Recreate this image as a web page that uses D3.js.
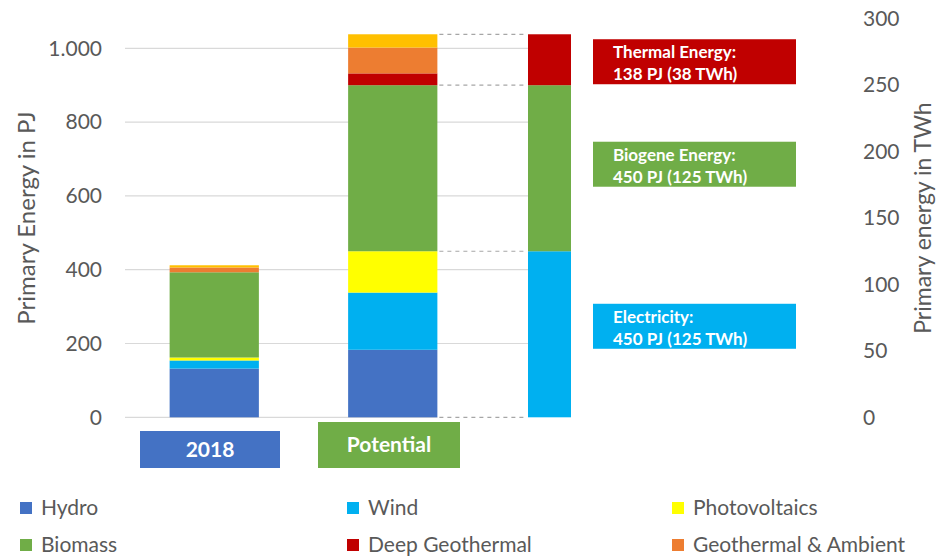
<!DOCTYPE html>
<html>
<head>
<meta charset="utf-8">
<script src="https://cdn.jsdelivr.net/npm/d3@7"></script>
<style>
  body { margin: 0; background: #fff; }
  svg { display: block; font-family: Lato, "Open Sans", sans-serif; }
</style>
</head>
<body>
<div id="chart"></div>
<script>
  const width = 938;
  const height = 557;

  // stacked bars, PJ
  const categories = ["2018", "Potential"];
  const seriesNames = ["Hydro", "Wind", "Photovoltaics", "Biomass", "Deep Geothermal", "Geothermal & Ambient", "Solar Thermal"];
  const hydro = [132, 183];
  const wind = [22, 155];
  const photovoltaics = [8, 112];
  const biomass = [231, 450];
  const deepGeothermal = [0, 32];
  const geoAmbient = [13, 70];
  const solarThermal = [6, 36];

  // split bar on the right, PJ / TWh
  const splitNames = ["Electricity", "Biogene Energy", "Thermal Energy"];
  const splitPJ = [450, 450, 138];
  const splitTWh = [125, 125, 38];

  const leftTicks = [0, 200, 400, 600, 800, 1000];
  const rightTicks = [0, 50, 100, 150, 200, 250, 300];
  const legendNames = ["Hydro", "Wind", "Photovoltaics", "Biomass", "Deep Geothermal", "Geothermal & Ambient"];

  const colors = {
    "Hydro": "#4472C4",
    "Wind": "#00B0F0",
    "Photovoltaics": "#FFFF00",
    "Biomass": "#70AD47",
    "Deep Geothermal": "#C00000",
    "Geothermal & Ambient": "#ED7D31",
    "Solar Thermal": "#FFC000"
  };
  const splitColors = ["#00B0F0", "#70AD47", "#C00000"];
  const catColors = ["#4472C4", "#70AD47"];
  const grey = "#595959";

  const plotLeft = 125, plotRight = 571;

  const y = d3.scaleLinear().domain([0, 1000]).range([417.3, 48.3]);
  // right axis in TWh (1 TWh = 3.6 PJ)
  const yR = d3.scaleLinear().domain([0, 300]).range([y(0), y(300 * 3.6)]);

  const x = d3.scaleBand().domain(categories).range([plotLeft, 482])
    .paddingInner(0.5).paddingOuter(0.25);
  const xs = d3.scaleBand().domain(["split"]).range([528, plotRight]);

  const svg = d3.create("svg").attr("width", width).attr("height", height);

  // gridlines
  svg.append("g")
    .selectAll("line")
    .data(leftTicks.slice(1))
    .join("line")
    .attr("x1", plotLeft).attr("x2", plotRight)
    .attr("y1", d => y(d)).attr("y2", d => y(d))
    .attr("stroke", "#D9D9D9").attr("stroke-width", 1.2);

  svg.append("line")
    .attr("x1", plotLeft).attr("x2", x("Potential") + x.bandwidth())
    .attr("y1", y(0)).attr("y2", y(0))
    .attr("stroke", "#D9D9D9").attr("stroke-width", 1.2);

  // stacked data
  const rows = categories.map((c, i) => ({
    cat: c,
    "Hydro": hydro[i],
    "Wind": wind[i],
    "Photovoltaics": photovoltaics[i],
    "Biomass": biomass[i],
    "Deep Geothermal": deepGeothermal[i],
    "Geothermal & Ambient": geoAmbient[i],
    "Solar Thermal": solarThermal[i]
  }));
  const stacked = d3.stack().keys(seriesNames)(rows);

  svg.append("g")
    .selectAll("g")
    .data(stacked)
    .join("g")
    .attr("fill", d => colors[d.key])
    .selectAll("rect")
    .data(d => d)
    .join("rect")
    .attr("x", d => x(d.data.cat))
    .attr("width", x.bandwidth())
    .attr("y", d => y(d[1]))
    .attr("height", d => y(d[0]) - y(d[1]));

  // split bar
  const splitStack = [];
  let acc = 0;
  splitPJ.forEach((v, i) => {
    splitStack.push({ name: splitNames[i], y0: acc, y1: acc + v, pj: v, twh: splitTWh[i], color: splitColors[i] });
    acc += v;
  });

  svg.append("g")
    .selectAll("rect")
    .data(splitStack)
    .join("rect")
    .attr("x", xs("split"))
    .attr("width", xs.bandwidth())
    .attr("y", d => y(d.y1))
    .attr("height", d => y(d.y0) - y(d.y1))
    .attr("fill", d => d.color);

  // dashed connectors
  const levels = [0].concat(splitStack.map(d => d.y1));
  svg.append("g")
    .selectAll("line")
    .data(levels)
    .join("line")
    .attr("x1", x("Potential") + x.bandwidth() + 2)
    .attr("x2", xs("split") - 4)
    .attr("y1", d => y(d)).attr("y2", d => y(d))
    .attr("stroke", "#A6A6A6")
    .attr("stroke-width", 1.2)
    .attr("stroke-dasharray", "4,4");

  // annotation boxes (shifted a little from the segment middle, like the original)
  const boxW = 203, boxH = 45, boxX = 593;
  const boxShift = [-8, -4, 2];
  const ann = svg.append("g")
    .selectAll("g")
    .data(splitStack)
    .join("g")
    .attr("transform", (d, i) => `translate(${boxX},${y((d.y0 + d.y1) / 2) + boxShift[i] - boxH / 2})`);
  ann.append("rect")
    .attr("width", boxW).attr("height", boxH)
    .attr("fill", d => d.color);
  ann.append("text")
    .attr("x", 20).attr("y", 19)
    .attr("fill", "#fff").attr("font-weight", 700).attr("font-size", 17)
    .text(d => d.name + ":");
  ann.append("text")
    .attr("x", 20).attr("y", 41)
    .attr("fill", "#fff").attr("font-weight", 700).attr("font-size", 17)
    .text(d => `${d.pj} PJ (${d.twh} TWh)`);

  // left axis
  const leftAxis = svg.append("g")
    .attr("transform", `translate(102,0)`)
    .call(d3.axisLeft(y).tickValues(leftTicks).tickSize(0).tickPadding(0)
      .tickFormat(d => d3.format(",")(d).replace(",", ".")));
  leftAxis.select(".domain").remove();
  leftAxis.selectAll("text")
    .attr("fill", grey).attr("font-size", 21).attr("font-family", "Lato");

  // right axis
  const rightAxis = svg.append("g")
    .attr("transform", `translate(863,0)`)
    .call(d3.axisRight(yR).tickValues(rightTicks).tickSize(0).tickPadding(0));
  rightAxis.select(".domain").remove();
  rightAxis.selectAll("text")
    .attr("fill", grey).attr("font-size", 21).attr("font-family", "Lato");

  // axis titles
  svg.append("text")
    .attr("transform", `translate(35,218) rotate(-90)`)
    .attr("text-anchor", "middle")
    .attr("fill", grey).attr("font-size", 24)
    .text("Primary Energy in PJ");
  svg.append("text")
    .attr("transform", `translate(931,218) rotate(-90)`)
    .attr("text-anchor", "middle")
    .attr("fill", grey).attr("font-size", 23)
    .text("Primary energy in TWh");

  // category boxes
  const catBoxes = [
    { x0: 140, x1: 280, y0: 431, y1: 468 },
    { x0: 318, x1: 460, y0: 422, y1: 468 }
  ];
  const cat = svg.append("g")
    .selectAll("g")
    .data(categories)
    .join("g");
  cat.append("rect")
    .attr("x", (d, i) => catBoxes[i].x0)
    .attr("y", (d, i) => catBoxes[i].y0)
    .attr("width", (d, i) => catBoxes[i].x1 - catBoxes[i].x0)
    .attr("height", (d, i) => catBoxes[i].y1 - catBoxes[i].y0)
    .attr("fill", (d, i) => catColors[i]);
  cat.append("text")
    .attr("x", (d, i) => (catBoxes[i].x0 + catBoxes[i].x1) / 2)
    .attr("y", (d, i) => (catBoxes[i].y0 + catBoxes[i].y1) / 2 + 7)
    .attr("text-anchor", "middle")
    .attr("fill", "#fff").attr("font-weight", 700).attr("font-size", 21)
    .text(d => d);

  // legend
  const legendCols = [20, 347, 672];
  const legendRows = [508, 545];
  const lg = svg.append("g")
    .selectAll("g")
    .data(legendNames)
    .join("g")
    .attr("transform", (d, i) => `translate(${legendCols[i % 3]},${legendRows[Math.floor(i / 3)]})`);
  lg.append("rect")
    .attr("x", 0).attr("y", -6)
    .attr("width", 12).attr("height", 12)
    .attr("fill", d => colors[d]);
  lg.append("text")
    .attr("x", 21).attr("y", 7)
    .attr("fill", grey).attr("font-size", 21)
    .text(d => d);

  document.getElementById("chart").appendChild(svg.node());
</script>
</body>
</html>
